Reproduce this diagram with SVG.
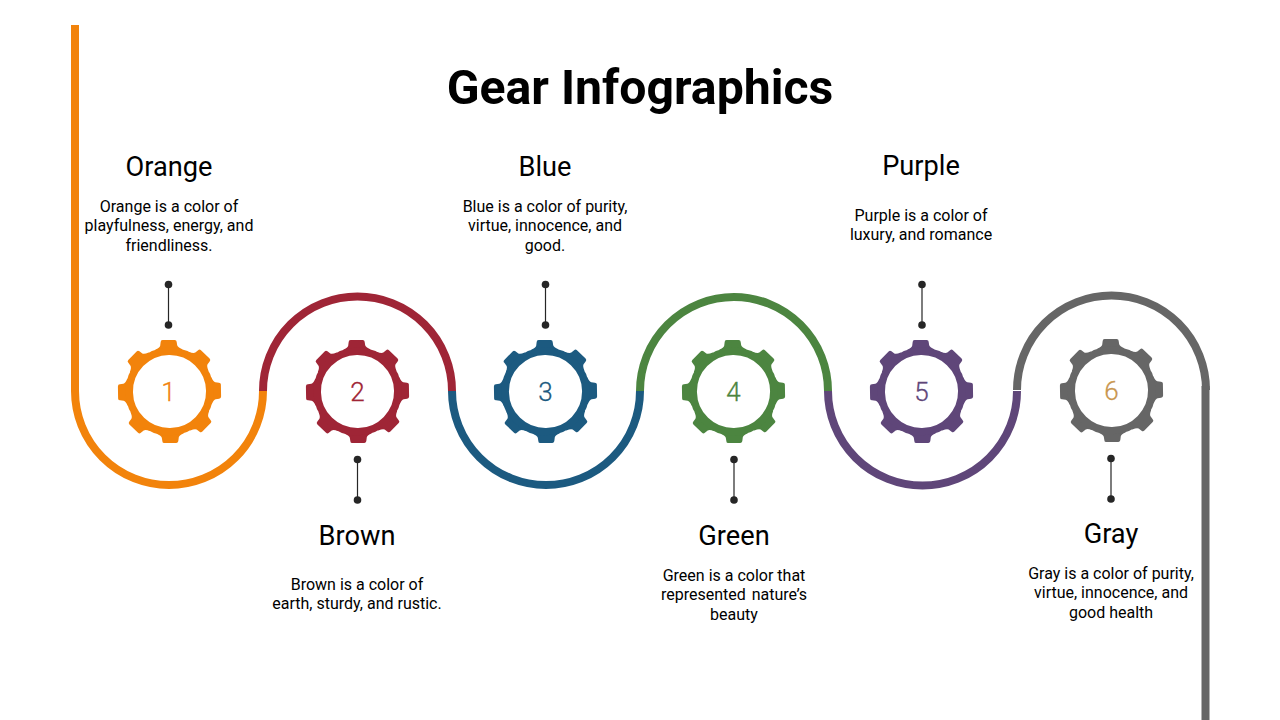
<svg xmlns="http://www.w3.org/2000/svg" width="1280" height="720" viewBox="0 0 1280 720">
<style>
text{font-family:Roboto,"Liberation Sans",sans-serif;text-anchor:middle;fill:#000;white-space:pre}
.title{font-size:48.200px;font-weight:700}
.head{font-size:27.200px;font-weight:400}
.body{font-size:16px}
.num{font-size:26px;font-weight:300;stroke-width:.3}
.wire{fill:none;stroke-width:8}
.stem{stroke:#262626;stroke-width:1.2}
.dot{fill:#262626}
</style>
<defs>
<g id="gear">
<path id="tooth" d="M-6-51.500H6Q8-51.500 8-49.500L8.500-46Q9-44 13.500-42L13-39H-13L-13.500-42Q-9-44-8.500-46L-8-49.500Q-8-51.500-6-51.500Z"/>
<use href="#tooth" transform="rotate(45)"/>
<use href="#tooth" transform="rotate(90)"/>
<use href="#tooth" transform="rotate(135)"/>
<use href="#tooth" transform="rotate(180)"/>
<use href="#tooth" transform="rotate(225)"/>
<use href="#tooth" transform="rotate(270)"/>
<use href="#tooth" transform="rotate(315)"/>
<circle r="40.300" fill="none" stroke="currentColor" stroke-width="7.500"/>
</g>
<g id="pin"><line class="stem" x1="0" y1="0" x2="0" y2="40.500"/><circle class="dot" cx="0" cy="0" r="3.800"/><circle class="dot" cx="0" cy="40.500" r="3.800"/></g>
</defs>
<rect width="1280" height="720" fill="#fff"/>
<text class="title" x="640" y="103.500">Gear Infographics</text>
<g id="connectors">
<path class="wire" stroke="#9F2536" d="M263 391A94.500 94.500 0 0 1 452 391"/>
<path class="wire" stroke="#4C8540" d="M640 391A94 94 0 0 1 828 391"/>
<path class="wire" stroke="#666666" d="M1017 390A94.500 94.500 0 0 1 1206 390"/>
<path class="wire" stroke="#666666" d="M1205.500 386V720"/>
<path class="wire" stroke="#F2830B" d="M75 25V391A94 94 0 0 0 263 391"/>
<path class="wire" stroke="#1C5A80" d="M452 391A94 94 0 0 0 640 391"/>
<path class="wire" stroke="#5F4679" d="M828 391A94.500 94.500 0 0 0 1017 391"/>
</g>
<g id="node1" color="#F2830B" fill="#F2830B"><use href="#gear" transform="translate(169.500 391.500) rotate(-1)"/><use href="#pin" x="168.500" y="284.500"/><text class="num" x="168.500" y="401" style="fill:#F2830B;stroke:#F2830B">1</text><text class="head" x="169" y="175.500">Orange</text><text class="body" x="169" y="212">Orange is a color of</text><text class="body" x="169" y="231">playfulness, energy, and</text><text class="body" x="169" y="251">friendliness.</text></g>
<g id="node2" color="#9F2536" fill="#9F2536"><use href="#gear" transform="translate(357.500 391.500) rotate(-1)"/><use href="#pin" x="357.500" y="459.500"/><text class="num" x="357.500" y="401" style="fill:#9F2536;stroke:#9F2536">2</text><text class="head" x="357" y="545">Brown</text><text class="body" x="357" y="590">Brown is a color of</text><text class="body" x="357" y="609">earth, sturdy, and rustic.</text></g>
<g id="node3" color="#1C5A80" fill="#1C5A80"><use href="#gear" transform="translate(545.500 391.500) rotate(-1)"/><use href="#pin" x="545.500" y="284.500"/><text class="num" x="545.500" y="401" style="fill:#1C5A80;stroke:#1C5A80">3</text><text class="head" x="545" y="175.500">Blue</text><text class="body" x="545" y="212">Blue is a color of purity,</text><text class="body" x="545" y="231">virtue, innocence, and</text><text class="body" x="545" y="251">good.</text></g>
<g id="node4" color="#4C8540" fill="#4C8540"><use href="#gear" transform="translate(733.500 391.500) rotate(-1)"/><use href="#pin" x="734" y="459.500"/><text class="num" x="733.500" y="401" style="fill:#4C8540;stroke:#4C8540">4</text><text class="head" x="734" y="545">Green</text><text class="body" x="734" y="581">Green is a color that</text><text class="body" x="734" y="600" word-spacing="-1">represented  nature’s</text><text class="body" x="734" y="620">beauty</text></g>
<g id="node5" color="#5F4679" fill="#5F4679"><use href="#gear" transform="translate(921.500 391.500) rotate(-1)"/><use href="#pin" x="922" y="284.500"/><text class="num" x="921.500" y="401" style="fill:#5F4679;stroke:#5F4679">5</text><text class="head" x="921" y="174.500">Purple</text><text class="body" x="921" y="221">Purple is a color of</text><text class="body" x="921" y="240">luxury, and romance</text></g>
<g id="node6" color="#666666" fill="#666666"><use href="#gear" transform="translate(1111.500 390.500) rotate(-1)"/><use href="#pin" x="1111" y="458.500"/><text class="num" x="1111.500" y="400" style="fill:#C9964F;stroke:#C9964F">6</text><text class="head" x="1111" y="543">Gray</text><text class="body" x="1111" y="579">Gray is a color of purity,</text><text class="body" x="1111" y="598">virtue, innocence, and</text><text class="body" x="1111" y="618">good health</text></g>
</svg>
